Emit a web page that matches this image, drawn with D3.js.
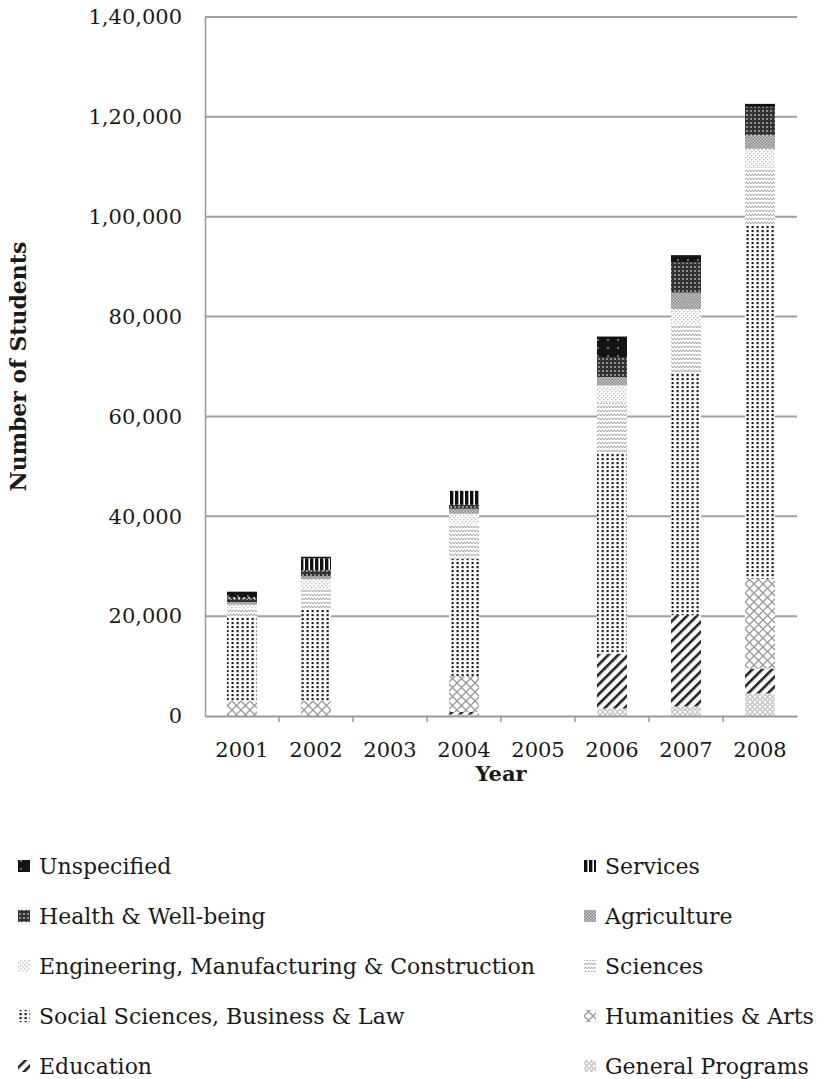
<!DOCTYPE html>
<html>
<head>
<meta charset="utf-8">
<script src="https://cdn.jsdelivr.net/npm/d3@7"></script>
<style>
  body { margin: 0; background: #fff; }
  svg text { font-family: "DejaVu Serif", serif; fill: #1a1a1a; }
</style>
</head>
<body>
<div class="container"></div>
<script>
const years = ['2001', '2002', '2003', '2004', '2005', '2006', '2007', '2008'];
const fields = [
  'General Programs', 'Education', 'Humanities & Arts', 'Social Sciences, Business & Law', 'Sciences',
  'Engineering, Manufacturing & Construction', 'Agriculture', 'Health & Well-being', 'Services', 'Unspecified'
];
const generalPrograms = [0, 0, 0, 300, 0, 1500, 1900, 4500];
const education = [0, 0, 0, 500, 0, 11000, 18300, 5000];
const humanities = [3000, 3000, 0, 7200, 0, 0, 0, 18000];
const socialSciences = [16700, 18400, 0, 23500, 0, 40000, 48300, 70700];
const sciences = [1800, 4000, 0, 7000, 0, 10300, 10000, 11700];
const engineering = [800, 2000, 0, 2000, 0, 3400, 3000, 3700];
const agriculture = [500, 600, 0, 1000, 0, 1700, 3300, 2700];
const health = [700, 1200, 0, 800, 0, 4000, 6000, 5700];
const services = [300, 2400, 0, 2800, 0, 0, 0, 0];
const unspecified = [1100, 300, 0, 0, 0, 4100, 1500, 600];
const yTicks = [0, 20000, 40000, 60000, 80000, 100000, 120000, 140000];

const seriesValues = [generalPrograms, education, humanities, socialSciences, sciences,
  engineering, agriculture, health, services, unspecified];

const data = years.map((year, i) => {
  const row = { year };
  fields.forEach((f, j) => { row[f] = seriesValues[j][i]; });
  return row;
});

// indian style grouping: 1,40,000
const indianFormat = v => {
  const s = String(v);
  if (s.length <= 3) return s;
  const last3 = s.slice(-3);
  let rest = s.slice(0, -3);
  const parts = [];
  while (rest.length > 2) {
    parts.unshift(rest.slice(-2));
    rest = rest.slice(0, -2);
  }
  if (rest) parts.unshift(rest);
  return parts.join(',') + ',' + last3;
};

const width = 823;
const height = 1079;
const margin = { top: 17, left: 205, right: 26, bottom: 363 };
const chartWidth = width - margin.left - margin.right;
const chartHeight = height - margin.top - margin.bottom;

const svg = d3.select('.container').append('svg').attr('width', width).attr('height', height);
const defs = svg.append('defs');

const pattern = (id, w, h, draw, transform) => {
  const p = defs.append('pattern').attr('id', id).attr('patternUnits', 'userSpaceOnUse')
    .attr('width', w).attr('height', h);
  if (transform) p.attr('patternTransform', transform);
  draw(p);
};

pattern('p0', 5, 5, p => {
  p.append('rect').attr('width', 5).attr('height', 5).attr('fill', '#fff');
  p.append('circle').attr('cx', 2.5).attr('cy', 2.5).attr('r', 1.8).attr('fill', 'none').attr('stroke', '#999').attr('stroke-width', 0.9);
});
pattern('p1', 7, 7, p => {
  p.append('rect').attr('width', 7).attr('height', 7).attr('fill', '#fff');
  p.append('rect').attr('width', 2.6).attr('height', 7).attr('fill', '#222');
}, 'rotate(45)');
pattern('p2', 9, 9, p => {
  p.append('rect').attr('width', 9).attr('height', 9).attr('fill', '#fff');
  p.append('path').attr('d', 'M0,0L9,9M9,0L0,9').attr('stroke', '#999').attr('stroke-width', 1.3);
});
pattern('p3', 5, 4, p => {
  p.append('rect').attr('width', 5).attr('height', 4).attr('fill', '#fff');
  p.append('rect').attr('x', 1.5).attr('y', 1).attr('width', 2.2).attr('height', 2.2).attr('fill', '#222');
});
pattern('p4', 6, 4, p => {
  p.append('rect').attr('width', 6).attr('height', 4).attr('fill', '#fff');
  p.append('path').attr('d', 'M0,2.6L1.5,1.2L3,2.6L4.5,1.2L6,2.6').attr('fill', 'none').attr('stroke', '#8a8a8a').attr('stroke-width', 1);
});
pattern('p5', 4, 4, p => {
  p.append('rect').attr('width', 4).attr('height', 4).attr('fill', '#fff');
  p.append('rect').attr('x', 0).attr('y', 0).attr('width', 1.4).attr('height', 1.4).attr('fill', '#bbb');
  p.append('rect').attr('x', 2).attr('y', 2).attr('width', 1.4).attr('height', 1.4).attr('fill', '#bbb');
});
pattern('p6', 3, 3, p => {
  p.append('rect').attr('width', 3).attr('height', 3).attr('fill', '#c8c8c8');
  p.append('rect').attr('width', 1.5).attr('height', 1.5).attr('fill', '#888');
  p.append('rect').attr('x', 1.5).attr('y', 1.5).attr('width', 1.5).attr('height', 1.5).attr('fill', '#888');
});
pattern('p7', 4, 4, p => {
  p.append('rect').attr('width', 4).attr('height', 4).attr('fill', '#333');
  p.append('circle').attr('cx', 2).attr('cy', 2).attr('r', 1).attr('fill', '#aaa');
});
pattern('p8', 5, 5, p => {
  p.append('rect').attr('width', 5).attr('height', 5).attr('fill', '#fff');
  p.append('rect').attr('width', 3.4).attr('height', 5).attr('fill', '#111');
});
pattern('p9', 10, 8, p => {
  p.append('rect').attr('width', 10).attr('height', 8).attr('fill', '#141414');
  p.append('circle').attr('cx', 3).attr('cy', 3).attr('r', 1).attr('fill', '#888');
});

const chart = svg.append('g').attr('transform', `translate(${margin.left},${margin.top})`);

const xScale = d3.scaleBand().domain(years).range([0, chartWidth]).paddingInner(0).paddingOuter(0);
const yScale = d3.scaleLinear().domain([0, 140000]).range([chartHeight, 0]);

// gridlines
chart.append('g').attr('class', 'grid')
  .selectAll('line').data(yTicks.slice(1)).enter().append('line')
  .attr('x1', 0).attr('x2', chartWidth)
  .attr('y1', d => yScale(d)).attr('y2', d => yScale(d))
  .attr('stroke', '#a0a0a0').attr('stroke-width', 2);

const stack = d3.stack().keys(fields);
const layers = stack(data);
const barWidth = 30;

chart.append('g').attr('class', 'bars')
  .selectAll('g').data(layers).enter().append('g')
  .attr('fill', (d, i) => `url(#p${i})`)
  .selectAll('rect').data(d => d).enter().append('rect')
  .attr('x', d => xScale(d.data.year) + (xScale.bandwidth() - barWidth) / 2)
  .attr('width', barWidth)
  .attr('y', d => yScale(d[1]))
  .attr('height', d => yScale(d[0]) - yScale(d[1]));

const leftAxis = d3.axisLeft(yScale).tickValues(yTicks).tickFormat(indianFormat).tickSize(0).tickPadding(23);
const leftAxisGroup = chart.append('g').attr('class', 'left-axis').call(leftAxis);
leftAxisGroup.select('.domain').attr('stroke', '#999').attr('stroke-width', 1.5);
leftAxisGroup.selectAll('text').attr('font-size', 21).attr('font-family', '"DejaVu Serif", serif');

const bottomAxis = d3.axisBottom(xScale).tickSize(0).tickPadding(26);
const bottomAxisGroup = chart.append('g').attr('class', 'bottom-axis')
  .attr('transform', `translate(0,${chartHeight})`).call(bottomAxis);
bottomAxisGroup.select('.domain').attr('stroke', '#999').attr('stroke-width', 2);
bottomAxisGroup.selectAll('text').attr('font-size', 21).attr('font-family', '"DejaVu Serif", serif');
bottomAxisGroup.selectAll('line.sep').data(years.slice(1)).enter().append('line').attr('class', 'sep')
  .attr('x1', d => xScale(d)).attr('x2', d => xScale(d))
  .attr('y1', 0).attr('y2', 6).attr('stroke', '#999').attr('stroke-width', 1.5);

svg.append('text').text('Year')
  .attr('x', margin.left + chartWidth / 2).attr('y', 781)
  .attr('text-anchor', 'middle').attr('font-size', 21).attr('font-weight', 'bold');

svg.append('text').text('Number of Students')
  .attr('transform', `translate(26,${margin.top + chartHeight / 2}) rotate(-90)`)
  .attr('text-anchor', 'middle').attr('font-size', 22).attr('font-weight', 'bold');

// legend, two columns
const legendItems = fields.slice().reverse();
const legend = svg.append('g').attr('class', 'legend')
  .selectAll('g').data(legendItems).enter().append('g')
  .attr('transform', (d, i) => `translate(${i % 2 === 0 ? 18 : 584},${866 + Math.floor(i / 2) * 50})`);

legend.append('rect')
  .attr('x', 0).attr('y', -6).attr('width', 12).attr('height', 12)
  .attr('fill', d => `url(#p${fields.indexOf(d)})`);

legend.append('text')
  .attr('x', 21).attr('y', 7.5)
  .attr('font-size', 22)
  .text(d => d);
</script>
</body>
</html>
